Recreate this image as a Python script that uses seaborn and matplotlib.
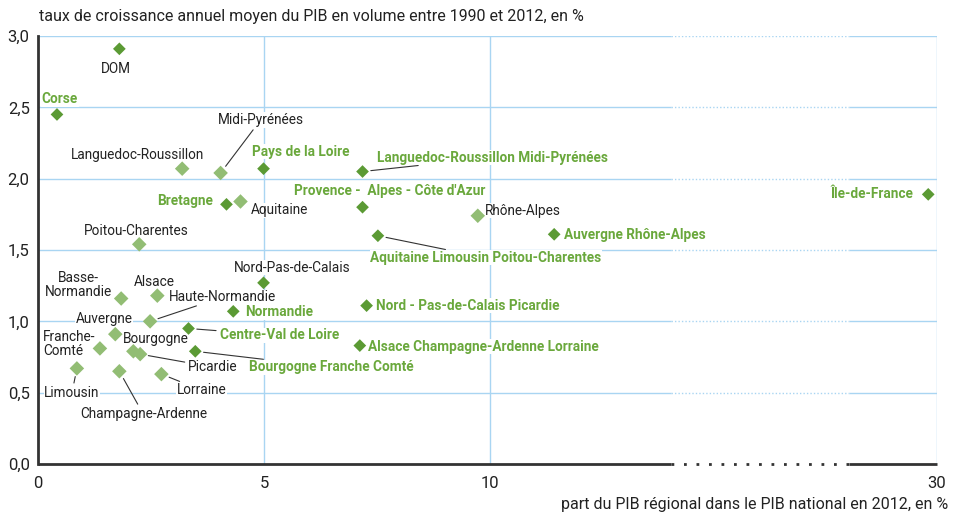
import numpy as np
import pandas as pd
import seaborn as sns
import matplotlib.pyplot as plt

# regions (2016) and old regions
regions = ['DOM', 'Corse', 'Pays de la Loire', 'Languedoc-Roussillon Midi-Pyrénées', 'Bretagne',
           "Provence -  Alpes - Côte d'Azur", 'Aquitaine Limousin Poitou-Charentes', 'Auvergne Rhône-Alpes',
           'Île-de-France', 'Nord-Pas-de-Calais', 'Normandie', 'Nord - Pas-de-Calais Picardie',
           'Centre-Val de Loire', 'Alsace Champagne-Ardenne Lorraine', 'Bourgogne Franche Comté']
regions_part = [1.80, 0.42, 4.99, 7.18, 4.17, 7.18, 7.52, 11.42, 29.8, 4.99, 4.32, 7.27, 3.33, 7.12, 3.48]
regions_croiss = [2.91, 2.45, 2.07, 2.05, 1.82, 1.80, 1.60, 1.61, 1.89, 1.27, 1.07, 1.11, 0.95, 0.83, 0.79]

anciennes = ['Languedoc-Roussillon', 'Midi-Pyrénées', 'Aquitaine', 'Poitou-Charentes', 'Rhône-Alpes',
             'Basse-\nNormandie', 'Alsace', 'Haute-Normandie', 'Auvergne', 'Franche-\nComté', 'Bourgogne',
             'Picardie', 'Limousin', 'Champagne-Ardenne', 'Lorraine']
anciennes_part = [3.19, 4.04, 4.48, 2.24, 9.73, 1.84, 2.64, 2.48, 1.71, 1.37, 2.11, 2.26, 0.86, 1.80, 2.73]
anciennes_croiss = [2.07, 2.04, 1.84, 1.54, 1.74, 1.16, 1.18, 1.00, 0.91, 0.81, 0.79, 0.77, 0.67, 0.65, 0.63]

x_ticks = [0, 5, 10, 30]
y_ticks = [0, 0.5, 1.0, 1.5, 2.0, 2.5, 3.0]

# label placement: offset in pixels, ha, leader line
labels_pos = {
    'DOM': (-3, -20, 'center', False),
    'Corse': (3, 15, 'center', False),
    'Pays de la Loire': (37, 17, 'center', False),
    'Languedoc-Roussillon Midi-Pyrénées': (14, 14, 'left', True),
    'Bretagne': (-13, 3, 'right', False),
    "Provence -  Alpes - Côte d'Azur": (27, 16, 'center', False),
    'Aquitaine Limousin Poitou-Charentes': (108, -22, 'center', True),
    'Auvergne Rhône-Alpes': (10, -1, 'left', False),
    'Île-de-France': (-15, 0, 'right', False),
    'Nord-Pas-de-Calais': (29, 15, 'center', False),
    'Normandie': (12, -1, 'left', False),
    'Nord - Pas-de-Calais Picardie': (9, 0, 'left', False),
    'Centre-Val de Loire': (31, -7, 'left', True),
    'Alsace Champagne-Ardenne Lorraine': (8, -1, 'left', False),
    'Bourgogne Franche Comté': (54, -16, 'left', True),
    'Languedoc-Roussillon': (22, 14, 'right', False),
    'Midi-Pyrénées': (40, 53, 'center', True),
    'Aquitaine': (10, -9, 'left', False),
    'Poitou-Charentes': (-3, 13, 'center', False),
    'Rhône-Alpes': (7, 5, 'left', False),
    'Basse-\nNormandie': (-43, 14, 'center', False),
    'Alsace': (-3, 14, 'center', False),
    'Haute-Normandie': (72, 24, 'center', True),
    'Auvergne': (-11, 15, 'center', False),
    'Franche-\nComté': (-57, 4, 'left', False),
    'Bourgogne': (22, 12, 'center', False),
    'Picardie': (48, -13, 'left', True),
    'Limousin': (-5, -25, 'center', True),
    'Champagne-Ardenne': (24, -43, 'center', True),
    'Lorraine': (40, -16, 'center', True),
}
black_labels = ['DOM', 'Nord-Pas-de-Calais']

df_new = pd.DataFrame({'nom': regions, 'part': regions_part, 'croissance': regions_croiss})
df_old = pd.DataFrame({'nom': anciennes, 'part': anciennes_part, 'croissance': anciennes_croiss})

sns.set_style('white')
plt.rcParams['font.family'] = ['Roboto', 'DejaVu Sans']

dark = '#5b9a34'
light = '#92bd74'
green_txt = '#6aa83c'
grid_c = '#a9d5f2'
axis_c = '#333333'

fig = plt.figure(figsize=(9.57, 5.16), dpi=100)
ax = fig.add_axes([38 / 957, 1 - 464 / 516, (937 - 38) / 957, (464 - 36) / 516])

# broken x axis: 14 -> 28 compressed
xp = [0, 14, 28, 30]
fp = [0, 14, 17.95, 19.89]
ax.set_xscale('function', functions=(lambda v: np.interp(v, xp, fp), lambda v: np.interp(v, fp, xp)))
ax.set_xlim(0, 30)
ax.set_ylim(0, 3.0)

# grid
for yv in y_ticks[1:]:
    ax.hlines(yv, 0, 14, color=grid_c, lw=1, zorder=0)
    ax.hlines(yv, 14, 28, color=grid_c, lw=1, ls=(0, (1, 1.5)), zorder=0)
    ax.hlines(yv, 28, 30, color=grid_c, lw=1, zorder=0)
for xv in x_ticks[1:]:
    ax.axvline(xv, color=grid_c, lw=1, zorder=0)
ax.hlines(0, 0, 14, color=axis_c, lw=2, zorder=3, clip_on=False)
ax.hlines(0, 14, 28, color=axis_c, lw=2, ls=(0, (1, 3.5)), zorder=3, clip_on=False)
ax.hlines(0, 28, 30, color=axis_c, lw=2, zorder=3, clip_on=False)
for s in ['top', 'right', 'bottom']:
    ax.spines[s].set_visible(False)
ax.spines['left'].set_color(axis_c)
ax.spines['left'].set_linewidth(2)

sns.scatterplot(data=df_old, x='part', y='croissance', marker='D', s=55, color=light,
                edgecolor='none', ax=ax, zorder=6, clip_on=False)
sns.scatterplot(data=df_new, x='part', y='croissance', marker='D', s=42, color=dark,
                edgecolor='none', ax=ax, zorder=6, clip_on=False)

for df, is_new in [(df_new, True), (df_old, False)]:
    for _, r in df.iterrows():
        dx, dy, ha, leader = labels_pos[r['nom']]
        green = is_new and r['nom'] not in black_labels
        kw = dict(xy=(r['part'], r['croissance']), xytext=(dx, dy), textcoords='offset pixels',
                  ha=ha, va='center', fontsize=9.8,
                  fontweight='bold' if green else 'normal',
                  color=green_txt if green else '#222222', zorder=5,
                  multialignment='left' if ha == 'left' else 'center',
                  linespacing=1.0,
                  bbox=dict(fc='white', ec='none', pad=0.5))
        if leader:
            kw['arrowprops'] = dict(arrowstyle='-', color='#333333', lw=0.8, shrinkA=2, shrinkB=6)
        ax.annotate(r['nom'], **kw)

ax.set_xticks(x_ticks)
ax.set_xticklabels([str(v) for v in x_ticks])
ax.set_yticks(y_ticks)
ax.set_yticklabels([f'{v:.1f}'.replace('.', ',') for v in y_ticks])
ax.tick_params(length=0, labelsize=12, colors='#222222', pad=6)
ax.tick_params(axis='x', pad=9)
ax.set_xlabel('')
ax.set_ylabel('')

fig.text(39 / 957, 1 - 16 / 516, 'taux de croissance annuel moyen du PIB en volume entre 1990 et 2012, en %',
         ha='left', va='center', fontsize=11.5, color='#222222')
fig.text(948 / 957, 1 - 505 / 516, 'part du PIB régional dans le PIB national en 2012, en %',
         ha='right', va='center', fontsize=11.5, color='#222222')

fig.savefig('out.png', dpi=100)
